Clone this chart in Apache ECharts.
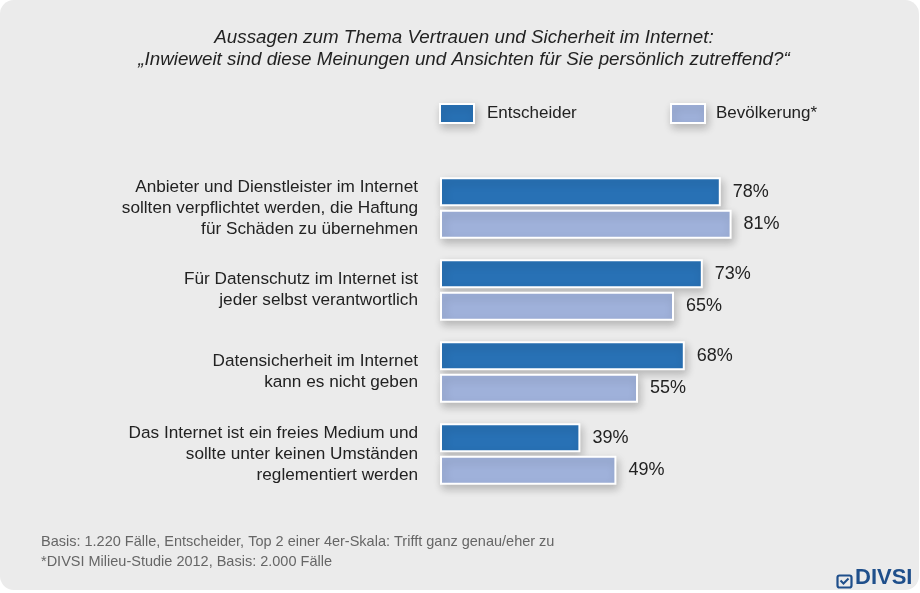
<!DOCTYPE html>
<html>
<head>
<meta charset="utf-8">
<script src="https://cdn.jsdelivr.net/npm/echarts@6/dist/echarts.min.js"></script>
<style>
  html, body { margin: 0; padding: 0; background: #fff; }
  #chart { width: 920px; height: 593px; }
</style>
</head>
<body>
<div id="chart"></div>
<script>
// Daten
var categories = [
  'Anbieter und Dienstleister im Internet\nsollten verpflichtet werden, die Haftung\nfür Schäden zu übernehmen',
  'Für Datenschutz im Internet ist\njeder selbst verantwortlich',
  'Datensicherheit im Internet\nkann es nicht geben',
  'Das Internet ist ein freies Medium und\nsollte unter keinen Umständen\nreglementiert werden'
];
var entscheider = [78, 73, 68, 39];
var bevoelkerung = [81, 65, 55, 49];
var seriesNames = ['Entscheider', 'Bevölkerung*'];

var font = 'Liberation Sans, Arial, sans-serif';
var darkBlue = '#2871b5';
var lightBlue = '#9fb1da';

var chart = echarts.init(document.getElementById('chart'));

function barStyle(color) {
  return {
    color: color,
    borderColor: '#ffffff',
    borderWidth: 2,
    shadowBlur: 8,
    shadowColor: 'rgba(0,0,0,0.22)',
    shadowOffsetX: 2,
    shadowOffsetY: 4
  };
}

var valueLabel = {
  show: true, position: 'right', distance: 12,
  formatter: '{c}%',
  fontFamily: font, fontSize: 18, color: '#222'
};

var option = {
  backgroundColor: 'transparent',
  animation: false,
  textStyle: { fontFamily: font },
  title: {
    text: 'Aussagen zum Thema Vertrauen und Sicherheit im Internet:\n„Inwieweit sind diese Meinungen und Ansichten für Sie persönlich zutreffend?“',
    left: 459,
    textAlign: 'center',
    top: 22,
    textStyle: {
      fontFamily: font,
      fontSize: 18.8,
      fontStyle: 'italic',
      fontWeight: 'normal',
      color: '#222',
      lineHeight: 22
    }
  },
  legend: [
    {
      data: [seriesNames[0]],
      left: 434, top: 98,
      itemWidth: 34, itemHeight: 19,
      icon: 'rect',
      itemStyle: barStyle(darkBlue),
      textStyle: { fontFamily: font, fontSize: 17, color: '#222', padding: [0, 0, 0, 8] }
    },
    {
      data: [seriesNames[1]],
      left: 665, top: 98,
      itemWidth: 34, itemHeight: 19,
      icon: 'rect',
      itemStyle: barStyle(lightBlue),
      textStyle: { fontFamily: font, fontSize: 17, color: '#222', padding: [0, 0, 0, 6] }
    }
  ],
  grid: { left: 440, top: 167, width: 360, height: 328, containLabel: false },
  xAxis: {
    type: 'value', min: 0, max: 100,
    show: false
  },
  yAxis: {
    type: 'category',
    data: categories,
    inverse: true,
    axisLine: { show: false },
    axisTick: { show: false },
    axisLabel: {
      margin: 22,
      align: 'right',
      fontFamily: font,
      fontSize: 17.2,
      lineHeight: 21,
      color: '#222'
    }
  },
  series: [
    {
      name: seriesNames[0],
      type: 'bar',
      data: entscheider,
      barWidth: 29,
      barGap: '12%',
      itemStyle: barStyle(darkBlue),
      label: valueLabel
    },
    {
      name: seriesNames[1],
      type: 'bar',
      data: bevoelkerung,
      barWidth: 29,
      itemStyle: barStyle(lightBlue),
      label: valueLabel
    }
  ],
  graphic: [
    {
      type: 'rect', z: -10, silent: true,
      shape: { x: 0, y: 0, width: 919, height: 590, r: 14 },
      style: { fill: '#ebebeb' }
    },
    {
      type: 'text', left: 41, top: 532,
      style: {
        text: 'Basis: 1.220 Fälle, Entscheider, Top 2 einer 4er-Skala: Trifft ganz genau/eher zu\n*DIVSI Milieu-Studie 2012, Basis: 2.000 Fälle',
        font: '14.5px ' + font, fill: '#666', lineHeight: 20
      }
    },
    {
      type: 'rect', left: 835, top: 573,
      shape: { x: 0, y: 0, width: 14, height: 12, r: 2 },
      style: { fill: 'none', stroke: '#1f4f8b', lineWidth: 2.2 }
    },
    {
      type: 'polyline', left: 838, top: 576,
      shape: { points: [[0, 2], [3, 5], [8, 0]] },
      style: { fill: 'none', stroke: '#1f4f8b', lineWidth: 2 }
    },
    {
      type: 'text', left: 855, top: 567,
      style: {
        text: 'DIVSI',
        font: 'bold 22px ' + font, fill: '#1f4f8b'
      }
    }
  ]
};

chart.setOption(option);
</script>
</body>
</html>
